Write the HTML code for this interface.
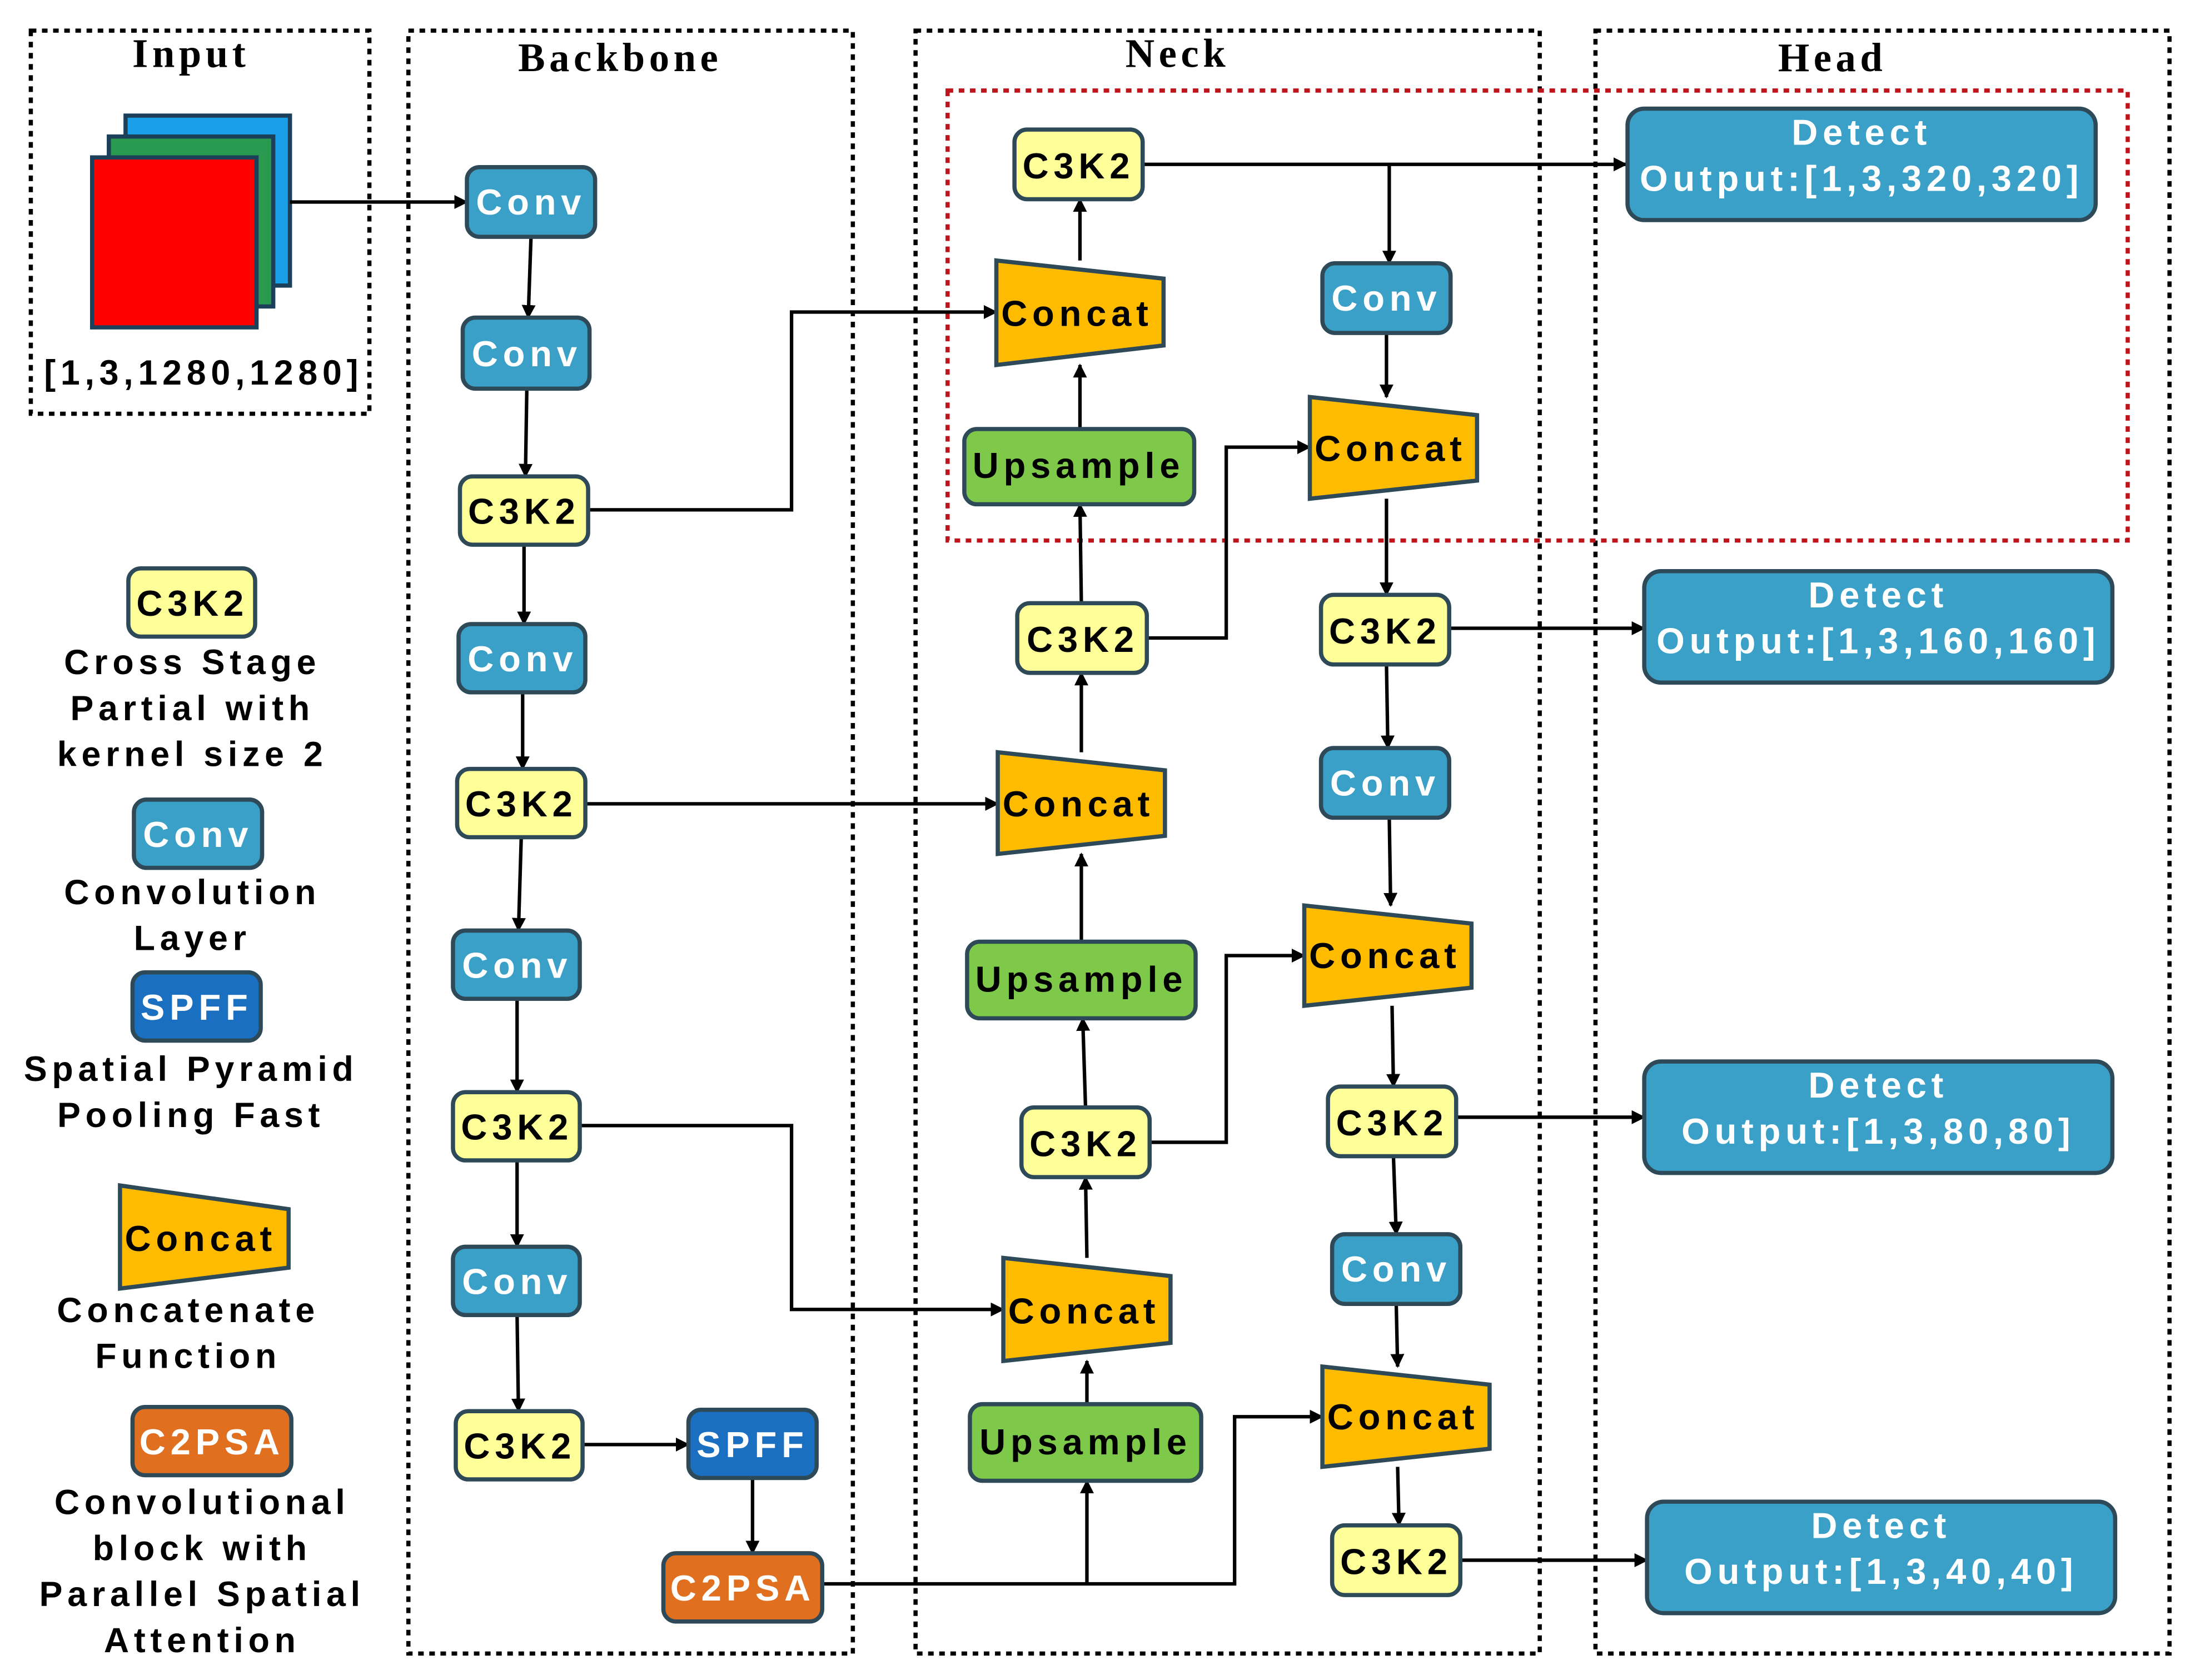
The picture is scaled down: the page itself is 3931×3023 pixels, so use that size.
<!DOCTYPE html>
<html><head><meta charset="utf-8"><style>
html,body{margin:0;padding:0;background:#fff}
svg{display:block}
.t{font-family:"Liberation Sans",sans-serif;font-weight:bold;letter-spacing:3.5px}
.h{font-family:"Liberation Serif",serif;font-weight:bold;font-size:29px;letter-spacing:3px}
</style></head><body>
<svg width="3931" height="3023" viewBox="0 0 1568 1206" xmlns="http://www.w3.org/2000/svg">
<defs><marker id="a" markerWidth="10" markerHeight="10" refX="9" refY="5" orient="auto" markerUnits="userSpaceOnUse"><path d="M0,0 L10,5 L0,10 z" fill="#000"/></marker></defs>
<rect width="1568" height="1206" fill="#fff"/>
<g fill="none" stroke="#000" stroke-width="3" stroke-dasharray="4,4">
<rect x="22" y="22" width="243" height="275"/>
<rect x="293" y="22" width="319" height="1165"/>
<rect x="657" y="22" width="448" height="1165"/>
<rect x="1145" y="22" width="412" height="1165"/>
</g>
<rect x="680" y="65" width="847" height="323" fill="none" stroke="#c0141c" stroke-width="3" stroke-dasharray="4,4"/>
<g class="h" text-anchor="middle">
<text x="137" y="48">Input</text><text x="445" y="51">Backbone</text><text x="845" y="48">Neck</text><text x="1315" y="51">Head</text>
</g>
<rect x="90" y="83" width="118" height="122" fill="#1aa0e8" stroke="#1c3f5a" stroke-width="3"/>
<rect x="78" y="98" width="118" height="122" fill="#2a9a50" stroke="#1c3f5a" stroke-width="3"/>
<rect x="66" y="113" width="118" height="122" fill="#ff0000" stroke="#1c3f5a" stroke-width="3"/>
<text class="t" x="146" y="276" font-size="25" text-anchor="middle">[1,3,1280,1280]</text>

<g stroke="#000" stroke-width="2.5" fill="none" marker-end="url(#a)">
<path d="M208,145H335"/>
<path d="M381,170L379,228"/><path d="M378,279L377,342"/><path d="M376,391V448"/><path d="M375,497V552"/><path d="M374,601L372,668"/><path d="M371,717V784"/><path d="M371,833V895"/><path d="M371,944L372,1013"/>
<path d="M422,366H568V224H715"/>
<path d="M420,577H716"/>
<path d="M416,808H568V940H720"/>
<path d="M418,1037H494"/>
<path d="M540,1061V1115"/>
<path d="M590,1137H886V1017H949"/>
<path d="M780,1137V1063"/>
<path d="M780,1008V977"/>
<path d="M780,903L779,845"/>
<path d="M825,820H880V686H936"/>
<path d="M779,795L777,731"/>
<path d="M776,676V613"/>
<path d="M776,540V483"/>
<path d="M823,458H880V321H940"/>
<path d="M776,433L775,362"/>
<path d="M775,308V262"/>
<path d="M775,187V143"/>
<path d="M820,118H1167"/>
<path d="M997,118V189"/>
<path d="M995,239V285"/>
<path d="M995,358V427"/>
<path d="M1040,451H1180"/>
<path d="M995,477L996,537"/>
<path d="M997,587L998,650"/>
<path d="M999,722L1000,780"/>
<path d="M1045,802H1180"/>
<path d="M1000,830L1002,886"/>
<path d="M1002,936L1003,981"/>
<path d="M1003,1053L1004,1095"/>
<path d="M1048,1120H1182"/>
</g>

<g stroke="#2e4a58" stroke-width="3">
<g fill="#3aa0c8">
<rect x="335" y="120" width="92" height="50" rx="9"/><rect x="332" y="228" width="91" height="51" rx="9"/><rect x="329" y="448" width="91" height="49" rx="9"/><rect x="325" y="668" width="91" height="49" rx="9"/><rect x="325" y="895" width="91" height="49" rx="9"/>
<rect x="949" y="189" width="92" height="50" rx="9"/><rect x="948" y="537" width="92" height="50" rx="9"/><rect x="956" y="886" width="92" height="50" rx="9"/>
<rect x="96" y="574" width="92" height="49" rx="9"/>
<rect x="1168" y="78" width="336" height="80" rx="12"/><rect x="1180" y="410" width="336" height="80" rx="12"/><rect x="1180" y="762" width="336" height="80" rx="12"/><rect x="1182" y="1078" width="336" height="80" rx="12"/>
</g>
<g fill="#ffff99">
<rect x="330" y="342" width="92" height="49" rx="9"/><rect x="328" y="552" width="92" height="49" rx="9"/><rect x="325" y="784" width="91" height="49" rx="9"/><rect x="327" y="1013" width="91" height="49" rx="9"/>
<rect x="728" y="93" width="92" height="50" rx="9"/><rect x="730" y="433" width="93" height="50" rx="9"/><rect x="733" y="795" width="92" height="50" rx="9"/>
<rect x="948" y="427" width="92" height="50" rx="9"/><rect x="953" y="780" width="92" height="50" rx="9"/><rect x="956" y="1095" width="92" height="50" rx="9"/>
<rect x="92" y="408" width="91" height="49" rx="9"/>
</g>
<g fill="#7fc94a">
<rect x="692" y="308" width="165" height="54" rx="9"/><rect x="694" y="676" width="164" height="55" rx="9"/><rect x="696" y="1008" width="166" height="55" rx="9"/>
</g>
<g fill="#ffbb00">
<path d="M715,187L835,200V248L715,262Z"/><path d="M716,540L836,553V600L716,613Z"/><path d="M720,903L840,916V964L720,977Z"/>
<path d="M940,285L1060,298V345L940,358Z"/><path d="M936,650L1056,663V709L936,722Z"/><path d="M949,981L1069,994V1040L949,1053Z"/>
<path d="M86,851L207,868V910L86,925Z"/>
</g>
<g fill="#1a6fc0"><rect x="494" y="1012" width="92" height="49" rx="9"/><rect x="95" y="698" width="92" height="49" rx="9"/></g>
<g fill="#e07020"><rect x="476" y="1115" width="114" height="49" rx="9"/><rect x="95" y="1010" width="114" height="49" rx="9"/></g>
</g>

<g class="t" font-size="26" text-anchor="middle" fill="#fff">
<text x="381" y="154">Conv</text><text x="378" y="263">Conv</text><text x="375" y="482">Conv</text><text x="371" y="702">Conv</text><text x="371" y="929">Conv</text>
<text x="995" y="223">Conv</text><text x="994" y="571">Conv</text><text x="1002" y="920">Conv</text><text x="142" y="608">Conv</text>
<text x="540" y="1046">SPFF</text><text x="141" y="732">SPFF</text>
<text x="533" y="1149">C2PSA</text><text x="152" y="1044">C2PSA</text>
<text x="1336" y="104">Detect</text><text x="1336" y="137">Output:[1,3,320,320]</text>
<text x="1348" y="436">Detect</text><text x="1348" y="469">Output:[1,3,160,160]</text>
<text x="1348" y="788">Detect</text><text x="1348" y="821">Output:[1,3,80,80]</text>
<text x="1350" y="1104">Detect</text><text x="1350" y="1137">Output:[1,3,40,40]</text>
</g>
<g class="t" font-size="26" text-anchor="middle" fill="#000">
<text x="376" y="376">C3K2</text><text x="374" y="586">C3K2</text><text x="371" y="818">C3K2</text><text x="373" y="1047">C3K2</text>
<text x="774" y="128">C3K2</text><text x="777" y="468">C3K2</text><text x="779" y="830">C3K2</text>
<text x="994" y="462">C3K2</text><text x="999" y="815">C3K2</text><text x="1002" y="1130">C3K2</text><text x="138" y="442">C3K2</text>
<text x="774" y="343">Upsample</text><text x="776" y="712">Upsample</text><text x="779" y="1044">Upsample</text>
<text x="773" y="234">Concat</text><text x="774" y="586">Concat</text><text x="778" y="950">Concat</text>
<text x="998" y="331">Concat</text><text x="994" y="695">Concat</text><text x="1007" y="1026">Concat</text><text x="144" y="898">Concat</text>
</g>
<g class="t" font-size="25" text-anchor="middle" fill="#000">
<text x="138" y="484">Cross Stage</text><text x="138" y="517">Partial with</text><text x="138" y="550">kernel size 2</text>
<text x="138" y="649">Convolution</text><text x="138" y="682">Layer</text>
<text x="137" y="776">Spatial Pyramid</text><text x="137" y="809">Pooling Fast</text>
<text x="135" y="949">Concatenate</text><text x="135" y="982">Function</text>
<text x="145" y="1087">Convolutional</text><text x="145" y="1120">block with</text><text x="145" y="1153">Parallel Spatial</text><text x="145" y="1186">Attention</text>
</g>
</svg>
</body></html>
